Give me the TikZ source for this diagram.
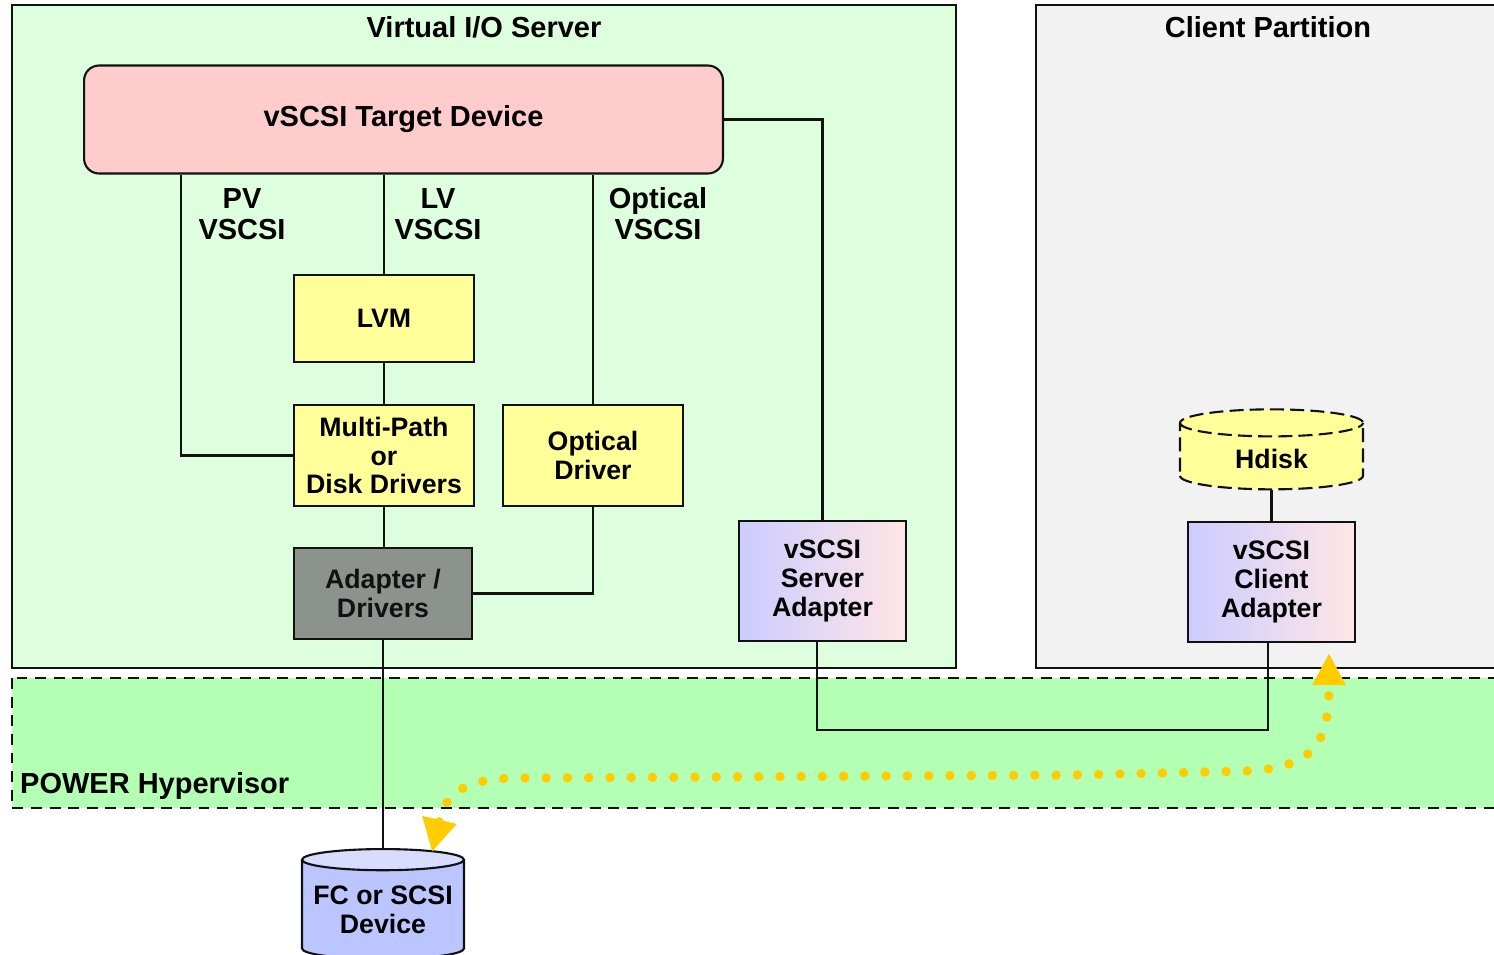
\documentclass[tikz,border=0pt]{standalone}
\usepackage{fontspec}
\setmainfont{Liberation Sans}
\usetikzlibrary{arrows.meta,shapes.geometric}

\begin{document}
\begin{tikzpicture}[x=0.02cm, y=-0.02cm,
    every node/.style={font=\fontsize{16.5}{17.5}\selectfont\bfseries, align=center},
    small/.style={font=\fontsize{15.2}{16.4}\selectfont\bfseries},
    box/.style={draw=borderColour, line width=1.2pt, minimum width=3.6cm, small},
    link/.style={draw=borderColour, line width=1.2pt},
    adapterbox/.style={box, minimum width=3.34cm, minimum height=2.4cm, left color=gradLeft, right color=gradRight}]
    % Define colours
    \definecolor{borderColour}{HTML}{111111}
    \definecolor{fillColourVio}{HTML}{DDFFDD}
    \definecolor{fillColourClient}{HTML}{F2F2F2}
    \definecolor{fillColourHyp}{HTML}{B3FFB3}
    \definecolor{fillColourTarget}{HTML}{FFCCCC}
    \definecolor{fillColourYellow}{HTML}{FFFF99}
    \definecolor{fillColourGrey}{HTML}{8C928C}
    \definecolor{gradLeft}{HTML}{CCCCFF}
    \definecolor{gradRight}{HTML}{FFE6E6}
    \definecolor{diskBody}{HTML}{BBC5FF}
    \definecolor{diskTop}{HTML}{D8DDFF}
    \definecolor{flowColour}{HTML}{FFCC00}

    \useasboundingbox (0,0) rectangle (1494,954);

    % Draw partitions and hypervisor
    \filldraw[fill=fillColourVio, draw=borderColour, line width=1.2pt] (12,5) rectangle (956,668);
    \filldraw[fill=fillColourClient, draw=borderColour, line width=1.2pt] (1036,5) rectangle (1510,668);
    \filldraw[fill=fillColourHyp, draw=borderColour, line width=1.3pt, dash pattern=on 6.2pt off 4.4pt] (12,678) rectangle (1510,808);

    \node (vioTitle) at (484,27) {Virtual I/O Server};
    \node (clientTitle) at (1268,27) {Client Partition};
    \node[anchor=west] (hypTitle) at (14,786) {POWER Hypervisor};

    % Virtual I/O Server components
    \node[box, fill=fillColourTarget, rounded corners=0.3cm, minimum width=12.78cm, minimum height=2.16cm,
          font=\fontsize{16.5}{17.5}\selectfont\bfseries] (target) at (403.5,119.5) {vSCSI Target Device};
    \node[box, fill=fillColourYellow, minimum height=1.74cm] (lvm) at (384,318.5) {LVM};
    \node[box, fill=fillColourYellow, minimum height=2.02cm] (mpio) at (384,455.5) {Multi-Path\\or\\Disk Drivers};
    \node[box, fill=fillColourYellow, minimum height=2.02cm] (optical) at (593,455.5) {Optical\\Driver};
    \node[box, fill=fillColourGrey, minimum width=3.56cm, minimum height=1.82cm, text=borderColour] (adapter) at (383,593.5) {Adapter /\\Drivers};
    \node[adapterbox] (server) at (822.5,581) {vSCSI\\Server\\Adapter};

    \node (pvLabel) at (242,214) {PV\\VSCSI};
    \node (lvLabel) at (438,214) {LV\\VSCSI};
    \node (optLabel) at (658,214) {Optical\\VSCSI};

    % Client Partition components
    \node[adapterbox] (client) at (1271.5,582) {vSCSI\\Client\\Adapter};
    \node[cylinder, shape border rotate=90, aspect=0.32, draw=borderColour, line width=1.2pt, dash pattern=on 8pt off 3.5pt,
          fill=fillColourYellow, minimum width=3.66cm, minimum height=1.6cm, small] (hdisk) at (1271.5,459) {Hdisk};

    % Physical device
    \node[cylinder, shape border rotate=90, aspect=0.14, draw=borderColour, line width=1.2pt,
          cylinder uses custom fill, cylinder body fill=diskBody, cylinder end fill=diskTop,
          minimum width=3.24cm, minimum height=2.2cm, anchor=north, small] (fcDisk) at (383,848) {\phantom{FC or SCSI}};
    \node[small] (fcLabel) at (383,910) {FC or SCSI\\Device};

    % Connectors
    \coordinate (pvX) at (181,0);
    \draw[link] (target.south -| pvX) |- (mpio.west);
    \draw[link] (target.south -| lvm.north) -- (lvm.north);
    \draw[link] (target.south -| optical.north) -- (optical.north);
    \draw[link] (target.east) -| (server.north);
    \draw[link] (lvm.south) -- (mpio.north);
    \draw[link] (mpio.south) -- (mpio.south |- adapter.north);
    \draw[link] (optical.south) |- (adapter.east);
    \draw[link] (adapter.south) -- (adapter.south |- fcDisk.north);
    \draw[link] (hdisk.south) -- (client.north);
    \draw[link] ([xshift=-0.11cm]server.south) -- ++(0,88) -| ([xshift=-0.07cm]client.south);

    % Data flow
    \draw[flowColour, line width=0.19cm, line cap=round, dash pattern=on 0pt off 0.425cm,
          {Triangle[length=0.66cm, width=0.66cm]}-{Triangle[length=0.64cm, width=0.62cm]}]
        (432,852) .. controls (446,792) and (466,778) .. (520,778) -- (1070,775) -- (1250,771)
        .. controls (1318,766) and (1329,740) .. (1329,653);

\end{tikzpicture}
\end{document}
